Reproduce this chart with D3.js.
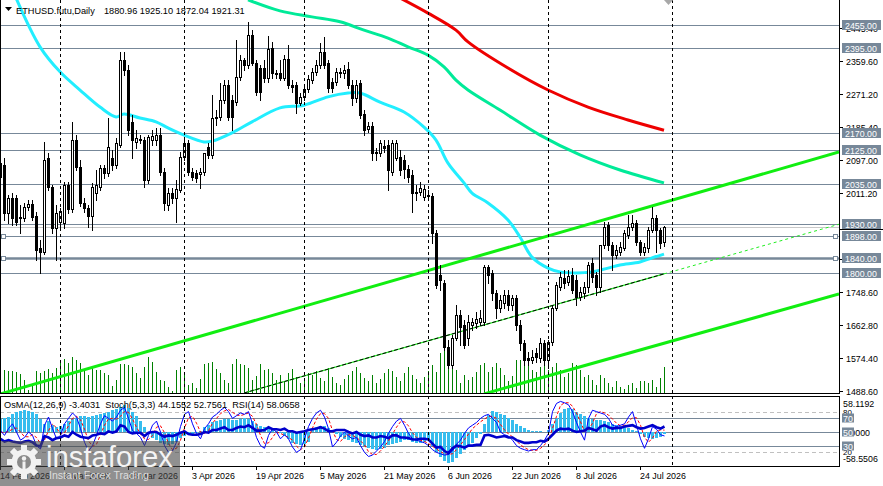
<!DOCTYPE html>
<html><head><meta charset="utf-8">
<script src="https://cdn.jsdelivr.net/npm/d3@7/dist/d3.min.js"></script>
<style>
html,body{margin:0;padding:0;background:#fff;overflow:hidden}
svg{display:block}
text{font-family:"Liberation Sans",Arial,sans-serif}
</style></head><body>
<svg id="c" width="883" height="486"></svg>
<script>
// ---------------- DATA ----------------
const symbolTitle = "ETHUSD.futu,Daily";
const lastOHLC = "1880.96 1925.10 1872.04 1921.31";
const startDay = "2026-02-14";

const open = [
2053,2085,1958,1998,1998,1948,1945,1974,1982,1950,
1866,1855,2104,2027,1919,1935,1932,2032,1969,2151,
2080,1985,1972,1950,2011,2027,2077,2064,2104,2085,
2138,2362,2336,2199,2146,2151,2151,2046,2151,2151,
2164,2067,1980,2011,1998,2019,2106,2143,2067,2064,
2061,2067,2133,2112,2209,2212,2257,2296,2257,2251,
2317,2362,2349,2428,2354,2341,2341,2315,2394,2325,
2328,2315,2365,2296,2296,2249,2265,2286,2309,2331,
2349,2383,2354,2304,2304,2328,2328,2338,2296,2262,
2302,2220,2180,2188,2117,2117,2135,2138,2067,2104,
2106,2098,2075,2059,2011,2014,2001,2006,2003,1906,
1795,1774,1605,1557,1628,1689,1663,1628,1663,1668,
1671,1671,1816,1800,1747,1708,1721,1742,1716,1734,
1663,1615,1576,1570,1589,1576,1615,1570,1618,1708,
1763,1787,1776,1795,1782,1737,1747,1763,1826,1795,
1763,1874,1927,1874,1848,1855,1866,1900,1921,1932,
1882,1855,1866,1914,1945,1914,1880.96];
const high = [
2106,2104,2006,2011,2006,1980,1985,1993,1993,1961,
1887,2146,2117,2032,1980,1972,2040,2040,2199,2164,
2098,1998,1980,2038,2072,2085,2085,2209,2125,2156,
2383,2383,2349,2217,2177,2164,2159,2164,2177,2183,
2183,2077,2024,2024,2046,2120,2159,2151,2077,2072,
2077,2117,2143,2270,2230,2301,2309,2309,2270,2415,
2375,2368,2462,2441,2362,2349,2362,2426,2410,2336,
2362,2375,2402,2309,2304,2275,2296,2323,2341,2362,
2407,2423,2362,2315,2341,2341,2349,2357,2309,2309,
2309,2230,2199,2199,2130,2151,2151,2151,2151,2151,
2125,2111,2085,2072,2032,2040,2032,2019,2011,1913,
1821,1782,1623,1636,1716,1702,1676,1689,1681,1697,
1702,1821,1821,1808,1755,1742,1755,1755,1742,1742,
1676,1623,1591,1597,1602,1628,1623,1623,1716,1776,
1803,1808,1808,1813,1795,1763,1776,1829,1840,1803,
1874,1935,1935,1882,1874,1882,1914,1953,1953,1940,
1887,1879,1922,1974,1953,1919,1925.10];
const low = [
2040,1940,1932,1927,1927,1906,1937,1966,1940,1834,
1800,1850,2019,1906,1834,1914,1919,1958,1961,2072,
1977,1961,1922,1914,1993,2019,2051,2056,2072,2077,
2133,2323,2164,2104,2130,2143,2027,2038,2138,2138,
2059,1966,1966,1985,1935,2014,2098,2059,2046,2040,
2024,2059,2104,2104,2191,2204,2249,2204,2177,2243,
2309,2336,2341,2349,2270,2257,2304,2304,2315,2315,
2309,2309,2288,2278,2222,2243,2257,2278,2302,2323,
2341,2341,2278,2278,2296,2317,2315,2288,2243,2251,
2209,2164,2172,2098,2098,2109,2120,2019,2059,2098,
2059,2051,2040,1961,1993,2006,1993,1993,1879,1760,
1755,1597,1550,1550,1623,1610,1602,1610,1650,1655,
1663,1663,1774,1729,1681,1697,1708,1702,1702,1650,
1597,1557,1557,1562,1565,1565,1557,1557,1610,1702,
1755,1760,1768,1747,1716,1729,1734,1750,1776,1742,
1750,1866,1861,1808,1840,1848,1861,1892,1914,1874,
1848,1848,1855,1908,1855,1866,1872.04];
const close = [
2090,1958,1998,1945,1935,1945,1974,1982,1948,1861,
1855,2098,2027,1919,1958,1964,2032,1969,2151,2080,
1985,1972,1950,2027,2032,2077,2064,2133,2085,2143,
2362,2336,2177,2151,2156,2154,2046,2159,2162,2164,
2067,1985,2011,1998,2022,2106,2143,2067,2053,2051,
2067,2117,2112,2209,2212,2257,2296,2212,2212,2317,
2362,2349,2428,2354,2278,2278,2315,2391,2328,2328,
2315,2365,2296,2291,2249,2265,2286,2312,2331,2349,
2383,2349,2288,2288,2331,2331,2336,2296,2262,2296,
2217,2177,2188,2117,2119,2143,2130,2072,2143,2143,
2072,2075,2053,2011,2014,2024,2022,2003,1906,1768,
1782,1605,1557,1628,1689,1658,1610,1671,1671,1679,
1681,1816,1795,1747,1708,1729,1742,1716,1734,1663,
1615,1570,1570,1578,1578,1615,1570,1618,1708,1768,
1789,1774,1792,1755,1737,1750,1763,1821,1789,1763,
1874,1921,1874,1848,1861,1869,1906,1921,1932,1882,
1855,1869,1914,1945,1914,1879,1921.31];
const volume = [
15,23,22,22,21,19,13,3,9,22,
20,22,24,20,25,30,34,30,36,33,
30,23,18,26,23,23,20,18,7,13,
29,29,28,26,20,15,26,36,31,21,
13,12,6,2,23,26,20,8,10,5,
14,29,30,31,24,20,13,10,29,34,
29,28,25,13,17,29,23,24,20,13,
18,12,20,24,16,10,14,20,18,22,
15,12,25,16,10,8,14,18,22,26,
20,15,12,18,10,14,20,24,22,16,
12,20,26,18,14,10,16,22,28,21,
40,50,35,25,23,10,18,13,16,21,
28,30,21,26,30,25,18,12,17,33,
33,31,28,23,21,26,30,23,26,30,
23,16,20,30,28,23,16,18,13,8,
18,15,10,6,12,6,4,8,10,5,
12,12,10,13,6,15,26];
const osma = [
22,24,25,30,33,35,36,35,33,30,
22,14,18,12,8,10,14,18,22,24,
26,26,25,26,28,30,32,34,36,38,
42,45,40,34,26,18,8,-4,-10,-14,
-18,-20,-22,-20,-16,-10,-6,-4,-3,-2,
2,8,12,16,18,20,22,22,20,20,
22,24,22,18,14,10,8,6,4,2,
-2,-6,-12,-18,-20,-22,-20,-16,4,8,
10,10,6,2,-4,-8,-12,-14,-16,-18,
-22,-24,-26,-28,-30,-28,-26,-22,-20,-18,
-16,-14,-14,-16,-18,-18,-16,-14,-24,-34,
-42,-48,-52,-50,-44,-36,-30,-24,-18,-10,
-4,14,28,35,34,30,28,24,20,14,
10,6,4,2,2,1,0,4,14,24,
32,38,40,38,34,30,26,24,22,20,
20,18,16,14,12,10,8,6,4,2,
-4,-8,-10,-12,-10,-8,-3.4031];
const stochMain = [
52,45,55,62,50,38,42,50,45,30,
25,60,72,55,40,45,62,70,78,72,
55,35,22,30,45,62,74,70,66,72,
82,86,70,52,48,42,30,45,60,66,
50,30,20,22,35,58,76,80,62,48,
40,55,62,72,76,82,86,80,70,74,
78,76,80,62,42,30,26,45,55,50,
40,46,40,28,20,24,40,58,70,78,
82,72,55,28,35,44,50,44,40,42,
30,20,14,16,22,28,36,48,58,66,
70,60,48,40,38,36,34,30,24,20,
18,16,17,22,32,38,48,56,60,64,
70,74,76,70,64,50,46,44,38,30,
26,24,22,24,24,30,38,48,80,92,
95,93,90,80,64,50,38,70,82,80,
78,76,70,60,58,60,62,72,80,60,
40,26,40,58,54,46,44.1552];
const stochSignal = [
50,49,51,54,56,50,43,43,46,42,
33,38,52,62,56,47,49,59,70,73,
68,54,37,29,32,46,60,69,70,69,
73,80,79,69,57,47,40,39,45,57,
59,49,33,24,26,38,56,71,73,63,
50,48,52,63,70,77,81,83,79,75,
74,76,78,73,61,45,33,34,42,50,
48,45,42,38,29,24,28,41,56,69,
77,77,70,52,39,36,43,46,45,42,
37,31,21,17,17,22,29,37,47,57,
65,65,59,49,42,38,36,33,29,25,
21,18,17,18,24,31,39,47,55,60,
65,69,73,73,70,61,53,47,43,37,
31,27,24,23,23,26,31,39,55,73,
89,93,93,88,78,65,51,53,63,77,
80,78,75,69,63,59,60,65,71,71,
60,42,35,41,51,53,52.7561];
const rsi = [
40,36,38,36,35,34,36,37,35,30,
29,44,42,38,41,42,45,43,50,46,
43,42,41,45,46,48,47,51,49,51,
60,58,50,48,49,49,44,49,50,50,
46,43,45,44,46,49,51,47,46,46,
47,50,49,53,53,55,57,53,53,56,
58,57,60,56,52,52,53,57,54,54,
53,55,51,51,49,50,51,53,54,55,
57,55,51,51,53,53,53,50,48,50,
46,44,45,42,42,44,43,41,45,45,
42,42,41,39,39,40,40,39,33,27,
28,22,19,26,30,29,27,30,30,31,
31,45,46,44,42,43,44,42,42,38,
36,34,34,35,35,37,36,40,46,52,
55,54,55,52,50,51,52,56,54,52,
58,60,57,55,56,56,58,59,60,57,
55,56,58,60,57,55,58.07];

// moving averages: [bar index, price]
const maAqua = [[4,2526],[10,2397],[15,2331],[20,2283],[25,2238],[29,2212],[31,2220],[35,2209],[39,2199],[42,2183],[46,2164],[51,2146],[53,2148],[58,2170],[63,2199],[70,2236],[76,2243],[82,2265],[87,2275],[90,2275],[95,2251],[101,2225],[106,2185],[109,2151],[112,2090],[116,2038],[118,2011],[122,1985],[127,1940],[130,1895],[133,1842],[137,1813],[140,1803],[144,1800],[148,1803],[152,1813],[155,1821],[160,1829],[163,1840],[166,1850]];
const maSpring = [[62,2521],[70,2492],[78,2476],[85,2463],[91,2441],[97,2420],[102,2397],[107,2375],[111,2344],[114,2309],[117,2283],[125,2230],[135,2164],[145,2112],[155,2072],[166,2038]];
const maRed = [[100,2526],[107,2486],[114,2441],[117,2410],[127,2341],[137,2283],[147,2238],[157,2204],[166,2177]];

// channel trend lines: two anchors [date, price]
const chanUpper = [["2026-02-14",1480.6],["2026-07-30",1986.2]];
const chanMid   = [["2026-04-16",1483.3],["2026-07-30",1797.7]];
const chanLower = [["2026-06-15",1481.0],["2026-07-30",1614.7]];

// horizontal levels
const levels = [2455,2395,2170,2125,2035,1930,1898,1840,1800];
const levelLabels = ["2455.00","2395.00","2170.00","2125.00","2035.00","1930.00","1898.00","1840.00","1800.00"];
const boldLevel = 1840;
const markedLevels = [1898,1840];
const bidPrice = 1921.31;

const priceTicks = [2445.40,2359.60,2271.20,2185.40,2097.00,2011.20,1837.00,1748.60,1662.80,1574.40,1488.60];

const separatorDates = ["2026-03-01","2026-04-01","2026-05-01","2026-06-01","2026-07-01","2026-08-01"];
const tickDates = ["2026-02-14","2026-03-02","2026-03-18","2026-04-03","2026-04-19","2026-05-05","2026-05-21","2026-06-06","2026-06-22","2026-07-08","2026-07-24"];
const tickLabels = ["14 Feb 2026","2 Mar 2026","18 Mar 2026","3 Apr 2026","19 Apr 2026","5 May 2026","21 May 2026","6 Jun 2026","22 Jun 2026","8 Jul 2026","24 Jul 2026"];

const indHeader = "OsMA(12,26,9) -3.4031  Stoch(5,3,3) 44.1552 52.7561  RSI(14) 58.0658";
const oscBoxLevels = [70,50,30];
const oscDashLevels = [80,20];
const osmaMax = 58.1192, osmaMin = -58.5506;

// ---------------- LAYOUT ----------------
const PR = 839, MB = 393, IT = 396, IB = 466;
const parse = d3.utcParse("%Y-%m-%d");
const start = parse(startDay);
const n = close.length;
const dates = d3.range(n).map(i => d3.utcDay.offset(start, i));

const x = d3.scaleUtc().domain([parse("2026-02-14"), parse("2026-08-01")]).range([0, 672]);
const y = d3.scaleLinear().domain([1483.3, 2520.6]).range([MB, 0]);
const yv = d3.scaleLinear().domain([0, 100]).range([MB, MB - 100]);
const yo = d3.scaleLinear().domain([0, 100]).range([466, 398]);
const yh = d3.scaleLinear().domain([osmaMin, osmaMax]).range([432 + (-osmaMin) * 0.6, 432 - osmaMax * 0.6]);

const svg = d3.select("#c");
svg.append("rect").attr("width", 883).attr("height", 486).attr("fill", "#fff");
const defs = svg.append("defs");
defs.append("clipPath").attr("id", "cm").append("rect").attr("x", 0).attr("y", 0).attr("width", PR).attr("height", MB);
defs.append("clipPath").attr("id", "ci").append("rect").attr("x", 0).attr("y", IT).attr("width", PR).attr("height", IB - IT);

// measure helper: font size that gives a target width
function sizeFor(str, target, base) {
  const t = svg.append("text").attr("font-size", base).attr("xml:space", "preserve").text(str);
  const w = t.node().getComputedTextLength();
  t.remove();
  return w > 0 ? base * target / w : base;
}
const fsHead = sizeFor(lastOHLC, 141, 10);
const fsAxis = sizeFor("2359.60", 32, 9);
const fsDate = sizeFor("24 Jul 2026", 46, 9);

const main = svg.append("g").attr("clip-path", "url(#cm)");
const ind = svg.append("g").attr("clip-path", "url(#ci)");

// header text (drawn under lines)
svg.append("path").attr("d", "M5,7 L12,7 L8.5,11 Z").attr("fill", "#000");
svg.append("text").attr("x", 16).attr("y", 14).attr("font-size", fsHead).attr("fill", "#000").text(symbolTitle);
svg.append("text").attr("x", 104).attr("y", 14).attr("font-size", fsHead).attr("fill", "#000").text(lastOHLC);

// bid line
main.append("line").attr("x1", 0).attr("x2", PR).attr("y1", Math.round(y(bidPrice)) + 0.5).attr("y2", Math.round(y(bidPrice)) + 0.5).attr("stroke", "#c8c8c8");

// level lines
levels.forEach(l => {
  const yy = Math.round(y(l));
  main.append("line").attr("x1", 0).attr("x2", PR)
    .attr("y1", yy + 0.5).attr("y2", yy + 0.5)
    .attr("stroke", "#778899").attr("stroke-width", l === boldLevel ? 2.6 : 1);
});
markedLevels.forEach(l => {
  const yy = Math.round(y(l));
  [1, PR - 6].forEach(xx => {
    main.append("rect").attr("x", xx + 0.5).attr("y", yy - 2 + 0.5).attr("width", 4).attr("height", 4)
      .attr("fill", "#fff").attr("stroke", "#778899");
  });
});

// volume
const gv = main.append("g").attr("shape-rendering", "crispEdges");
dates.forEach((d, i) => {
  const cx = Math.round(x(d));
  gv.append("rect").attr("x", cx).attr("width", 1).attr("y", yv(volume[i])).attr("height", MB - yv(volume[i])).attr("fill", "#008000");
});

// separators
separatorDates.forEach(s => {
  const xx = Math.round(x(parse(s))) + 0.5;
  svg.append("line").attr("x1", xx).attr("x2", xx).attr("y1", 0).attr("y2", IB)
    .attr("stroke", "#000").attr("stroke-dasharray", "3,3");
});

// moving averages
const maLine = d3.line().x(p => x(d3.utcDay.offset(start, p[0]))).y(p => y(p[1])).curve(d3.curveCatmullRom);
main.append("path").attr("d", maLine(maRed)).attr("fill", "none").attr("stroke", "#ee0000").attr("stroke-width", 3);
main.append("path").attr("d", maLine(maSpring)).attr("fill", "none").attr("stroke", "#00ea98").attr("stroke-width", 3);
main.append("path").attr("d", maLine(maAqua)).attr("fill", "none").attr("stroke", "#22eeff").attr("stroke-width", 3);

// channels
function ray(a) {
  const x1 = x(parse(a[0][0])), y1 = y(a[0][1]), x2 = x(parse(a[1][0])), y2 = y(a[1][1]);
  const k = (y2 - y1) / (x2 - x1);
  return {x1, y1, x2, y2, xe: PR, ye: y1 + k * (PR - x1)};
}
[chanUpper, chanLower].forEach(c => {
  const r = ray(c);
  main.append("line").attr("x1", r.x1).attr("y1", r.y1).attr("x2", r.xe).attr("y2", r.ye)
    .attr("stroke", "#11ee11").attr("stroke-width", 3);
});
{
  const r = ray(chanMid);
  main.append("line").attr("x1", r.x1).attr("y1", r.y1).attr("x2", r.x2).attr("y2", r.y2).attr("stroke", "#22ee22").attr("stroke-width", 1.2);
  main.append("line").attr("x1", r.x1).attr("y1", r.y1).attr("x2", r.x2).attr("y2", r.y2).attr("stroke", "#000").attr("stroke-width", 1).attr("stroke-dasharray", "4,2");
  main.append("line").attr("x1", r.x2).attr("y1", r.y2).attr("x2", r.xe).attr("y2", r.ye).attr("stroke", "#22ee22").attr("stroke-width", 1).attr("stroke-dasharray", "3,3");
}

// candles
const gc = main.append("g").attr("shape-rendering", "crispEdges");
dates.forEach((d, i) => {
  const cx = Math.round(x(d));
  const o = open[i], h = high[i], l = low[i], c = close[i];
  const yh1 = Math.round(y(h)), yl1 = Math.round(y(l));
  gc.append("rect").attr("x", cx).attr("y", yh1).attr("width", 1).attr("height", Math.max(1, yl1 - yh1 + 1)).attr("fill", "#000");
  const t = Math.round(y(Math.max(o, c))), b = Math.round(y(Math.min(o, c)));
  gc.append("rect").attr("x", cx - 1).attr("y", t).attr("width", 3).attr("height", Math.max(1, b - t + 1)).attr("fill", "#000");
  if (c > o && b - t >= 2) {
    gc.append("rect").attr("x", cx).attr("y", t + 1).attr("width", 1).attr("height", b - t - 1).attr("fill", "#fff");
  }
});

// shift marker
svg.append("path").attr("d", "M664,0 L673,0 L668.5,5 Z").attr("fill", "#a8a8a8");

// ---------------- INDICATOR PANEL ----------------
svg.append("text").attr("x", 4).attr("y", 408).attr("font-size", fsHead).attr("fill", "#000")
  .attr("xml:space", "preserve").text(indHeader);

oscDashLevels.forEach(v => {
  const yy = Math.round(yo(v)) + 0.5;
  ind.append("line").attr("x1", 0).attr("x2", PR).attr("y1", yy).attr("y2", yy).attr("stroke", "#c0c0c0").attr("stroke-dasharray", "4,3");
});
oscBoxLevels.forEach(v => {
  const yy = Math.round(yo(v)) + 0.5;
  ind.append("line").attr("x1", 0).attr("x2", PR).attr("y1", yy).attr("y2", yy).attr("stroke", "#778899");
});

const gh = ind.append("g").attr("shape-rendering", "crispEdges");
dates.forEach((d, i) => {
  const cx = Math.round(x(d));
  const y0 = yh(0), y1 = yh(osma[i]);
  gh.append("rect").attr("x", cx - 1).attr("width", 3).attr("y", Math.min(y0, y1)).attr("height", Math.abs(y1 - y0)).attr("fill", "#36bdee");
});

const oscLine = arr => d3.line().x((v, i) => x(dates[i]) + 0.5).y(v => yo(v))(arr);
ind.append("path").attr("d", oscLine(stochSignal)).attr("fill", "none").attr("stroke", "#ff0000").attr("stroke-width", 1).attr("stroke-dasharray", "3,2");
ind.append("path").attr("d", oscLine(stochMain)).attr("fill", "none").attr("stroke", "#0000ff").attr("stroke-width", 1);
ind.append("path").attr("d", oscLine(rsi)).attr("fill", "none").attr("stroke", "#0000cc").attr("stroke-width", 2.6);

// ---------------- FRAMES & AXES ----------------
const fr = svg.append("g").attr("shape-rendering", "crispEdges").attr("fill", "none").attr("stroke", "#000");
fr.append("rect").attr("x", 0.5).attr("y", -1).attr("width", PR).attr("height", MB + 1.5);
fr.append("rect").attr("x", 0.5).attr("y", IT + 0.5).attr("width", PR).attr("height", IB - IT);

// right price axis
priceTicks.forEach(p => {
  const yy = Math.round(y(p)) + 0.5;
  svg.append("line").attr("x1", PR).attr("x2", PR + 4).attr("y1", yy).attr("y2", yy).attr("stroke", "#000");
  svg.append("text").attr("x", 846).attr("y", yy + 3.5).attr("font-size", fsAxis).attr("fill", "#000").text(p.toFixed(2));
});
levels.forEach((l, i) => {
  const yy = Math.round(y(l));
  svg.append("rect").attr("x", 842).attr("y", yy - 5).attr("width", 39).attr("height", 10).attr("fill", "#778899");
  svg.append("text").attr("x", 845).attr("y", yy + 3.5).attr("font-size", fsAxis).attr("fill", "#fff").text(levelLabels[i]);
});
svg.append("line").attr("x1", PR).attr("x2", 883).attr("y1", 229.5).attr("y2", 229.5).attr("stroke", "#000");

// indicator axis labels
svg.append("text").attr("x", 843).attr("y", 407).attr("font-size", fsAxis).text(osmaMax.toFixed(4));
svg.append("text").attr("x", 843).attr("y", 462).attr("font-size", fsAxis).text(osmaMin.toFixed(4));
svg.append("text").attr("x", 843).attr("y", 435.5).attr("font-size", fsAxis).text("0.0000");
oscDashLevels.forEach(v => {
  svg.append("text").attr("x", 843).attr("y", yo(v) + 3).attr("font-size", fsAxis * 0.9).text(v);
});
oscBoxLevels.forEach(v => {
  const yy = Math.round(yo(v));
  svg.append("rect").attr("x", 842).attr("y", yy - 4.5).attr("width", 12).attr("height", 9).attr("fill", "#778899");
  svg.append("text").attr("x", 843).attr("y", yy + 3.5).attr("font-size", fsAxis).attr("fill", "#fff").text(v);
});

// date axis
tickDates.forEach((s, i) => {
  const xx = Math.round(x(parse(s)));
  svg.append("line").attr("x1", xx + 0.5).attr("x2", xx + 0.5).attr("y1", IB).attr("y2", IB + 4).attr("stroke", "#000");
  svg.append("text").attr("x", xx).attr("y", 479).attr("font-size", fsDate).attr("fill", "#000").text(tickLabels[i]);
});

// ---------------- WATERMARK ----------------
const wm = svg.append("g");
wm.append("rect").attr("x", 0).attr("y", 441).attr("width", 180).attr("height", 45).attr("fill", "rgba(70,70,70,0.6)");
const gear = wm.append("g").attr("transform", "translate(24,462)");
d3.range(8).forEach(k => {
  gear.append("rect").attr("x", -3).attr("y", -17).attr("width", 6).attr("height", 8)
    .attr("fill", "#f2f2f2").attr("transform", `rotate(${k * 45})`);
});
gear.append("circle").attr("r", 12.5).attr("fill", "#f2f2f2");
gear.append("circle").attr("r", 7).attr("fill", "#8a8a8a");
gear.append("circle").attr("cy", -3.5).attr("r", 2.2).attr("fill", "#f2f2f2");
gear.append("rect").attr("x", -1.5).attr("y", -0.5).attr("width", 3).attr("height", 9).attr("fill", "#f2f2f2");
const wmSize = sizeFor("instaforex", 127, 28);
wm.append("text").attr("x", 46).attr("y", 467).attr("font-size", wmSize).attr("fill", "#f4f4f4").text("instaforex");
const wmSub = sizeFor("Instant Forex Trading", 100, 10);
wm.append("text").attr("x", 49).attr("y", 479).attr("font-size", wmSub).attr("fill", "#dddddd").text("Instant Forex Trading");
</script>
</body></html>
